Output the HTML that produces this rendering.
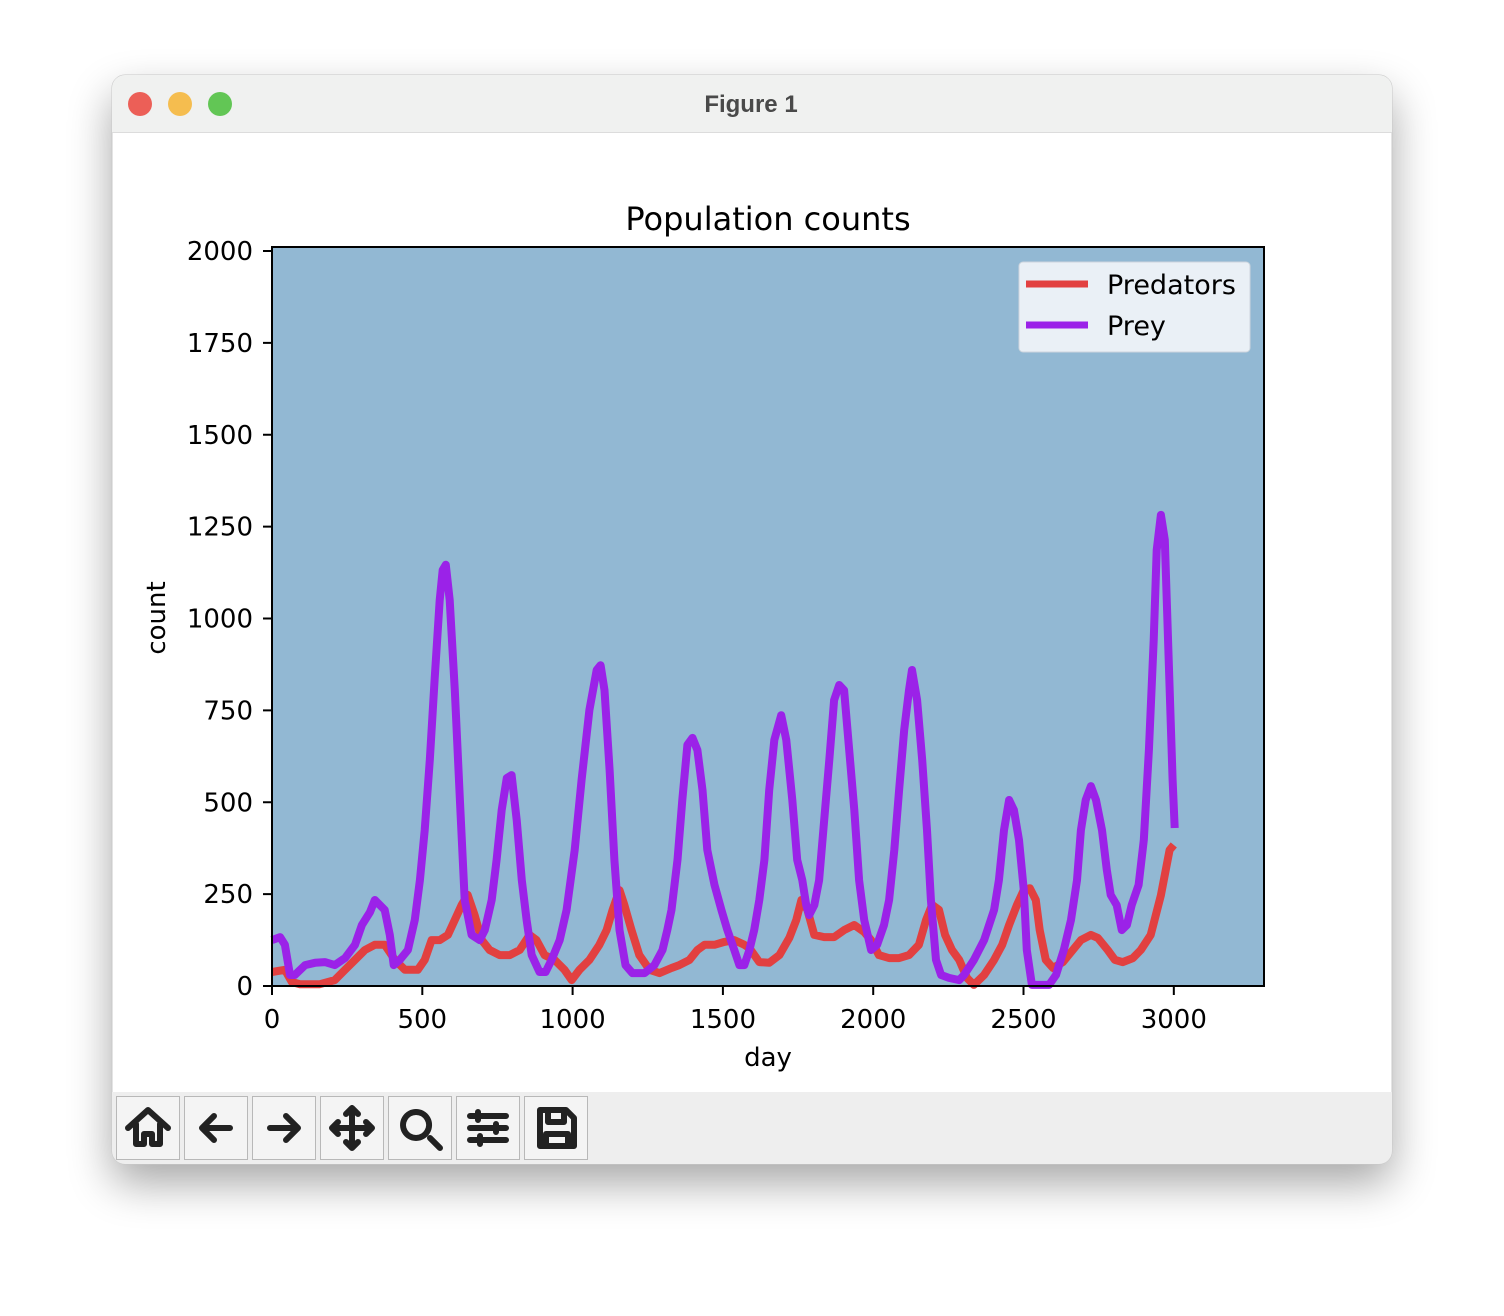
<!DOCTYPE html>
<html><head><meta charset="utf-8"><style>
body{margin:0;width:1504px;height:1312px;background:#fff;font-family:"DejaVu Sans","Liberation Sans",sans-serif;overflow:hidden}
</style></head><body>
<svg id="s" width="1504" height="1312" xmlns="http://www.w3.org/2000/svg">
<defs><filter id="sh" x="-20%" y="-20%" width="140%" height="150%"><feGaussianBlur stdDeviation="22"/></filter></defs>
<rect x="112" y="95" width="1280" height="1088" rx="14" fill="#000" opacity="0.35" filter="url(#sh)"/>
<g>
<rect x="112" y="75" width="1280" height="1089" rx="13" fill="#fff" stroke="#c8c8c8"/>
<path d="M112 132 V88 a13 13 0 0 1 13 -13 H1379 a13 13 0 0 1 13 13 V132 Z" fill="#f0f1f0"/>
<line x1="112" y1="132.5" x2="1392" y2="132.5" stroke="#dcdcdc"/>
<circle cx="140" cy="104" r="12" fill="#ec5f57"/>
<circle cx="180" cy="104" r="12" fill="#f5bd4f"/>
<circle cx="220" cy="104" r="12" fill="#62c655"/>
<text x="751" y="112" text-anchor="middle" font-size="24" font-weight="bold" fill="#4a4a4a" font-family="Liberation Sans, sans-serif">Figure 1</text>
<path d="M112 1092 H1392 V1151 a13 13 0 0 1 -13 13 H125 a13 13 0 0 1 -13 -13 Z" fill="#eeeeee"/>
</g>
<g id="tb"></g>
<text x="768" y="230" text-anchor="middle" font-size="32" fill="#000">Population counts</text>
<rect x="272" y="247" width="992" height="739" fill="#92b8d3"/>
<g id="plot"></g>
<rect x="272" y="247" width="992" height="739" fill="none" stroke="#000" stroke-width="2"/>
<g id="axes"></g>
<text x="768" y="1066" text-anchor="middle" font-size="26">day</text>
<text transform="translate(165,618) rotate(-90)" text-anchor="middle" font-size="26">count</text>
<g>
<rect x="1019" y="262" width="231" height="90" rx="4" fill="#eaf0f6" stroke="#cdd5dd"/>
<line x1="1026" y1="284" x2="1088" y2="284" stroke="#e24040" stroke-width="7"/>
<text x="1107" y="294" font-size="27">Predators</text>
<line x1="1026" y1="325" x2="1088" y2="325" stroke="#9b22e8" stroke-width="7"/>
<text x="1107" y="335" font-size="27">Prey</text>
</g>
</svg>
<script>
const xTicks=[0,500,1000,1500,2000,2500,3000];
const yTicks=[0,250,500,750,1000,1250,1500,1750,2000];
const preyDays=[0,27,43,60,76,110,143,176,209,243,276,299,326,342,359,375,392,405,425,452,475,492,508,525,541,558,568,578,591,608,625,641,664,691,708,731,747,764,781,797,814,831,847,864,890,910,930,957,980,1007,1030,1056,1080,1093,1106,1123,1139,1156,1176,1199,1239,1272,1299,1315,1329,1349,1365,1382,1399,1415,1432,1448,1472,1495,1515,1538,1555,1571,1588,1604,1621,1638,1654,1671,1694,1711,1731,1747,1764,1777,1787,1804,1820,1837,1854,1870,1887,1903,1920,1937,1953,1970,1993,2013,2036,2053,2070,2086,2103,2119,2129,2146,2163,2179,2192,2209,2226,2252,2286,2302,2335,2369,2402,2418,2435,2452,2468,2485,2501,2511,2528,2551,2585,2608,2634,2658,2678,2691,2707,2724,2741,2761,2777,2790,2810,2827,2844,2860,2883,2900,2917,2933,2943,2957,2970,2983,2996,3003];
const preyCounts=[125,133,112,30,30,57,63,65,57,76,112,166,201,234,220,207,139,57,71,98,180,288,424,615,833,1050,1132,1146,1050,805,506,234,139,125,152,234,343,479,566,574,452,288,180,84,38,38,71,125,207,370,561,751,860,873,805,588,343,152,57,35,35,57,98,152,207,343,506,656,675,642,533,370,275,207,152,98,57,57,98,152,234,343,533,669,737,669,506,343,288,220,193,220,288,452,615,778,819,805,642,479,288,180,98,112,166,234,370,533,697,805,860,778,615,424,234,71,30,22,16,30,71,125,207,288,424,506,479,397,261,98,3,3,3,30,98,180,288,424,506,544,506,424,316,248,220,152,166,220,275,397,642,941,1186,1282,1214,887,561,430];
const predDays=[0,43,66,93,159,209,243,276,309,342,375,409,442,485,508,531,558,585,608,631,651,674,698,724,757,791,824,857,880,907,940,973,997,1023,1056,1089,1113,1133,1156,1172,1196,1222,1256,1289,1329,1355,1389,1415,1439,1472,1505,1538,1571,1588,1621,1654,1688,1721,1744,1761,1781,1804,1837,1870,1903,1937,1970,1993,2019,2053,2086,2119,2152,2176,2196,2219,2239,2262,2286,2312,2335,2369,2402,2429,2452,2478,2501,2521,2541,2554,2574,2598,2631,2664,2691,2724,2747,2780,2804,2830,2864,2890,2923,2940,2957,2973,2986,3000];
const predCounts=[38,44,11,5,5,16,44,71,98,112,112,71,44,44,71,125,125,139,180,221,248,193,125,98,84,84,98,139,125,84,71,44,16,44,71,112,152,207,261,221,152,84,44,35,49,57,71,98,112,112,120,125,112,103,65,63,84,131,180,234,207,139,133,133,152,166,147,125,84,76,76,84,112,180,221,207,139,98,71,22,3,30,71,112,166,220,261,266,234,152,71,49,65,98,125,139,131,98,71,65,76,98,139,193,247,315,370,384];
const NS='http://www.w3.org/2000/svg';
const X0=272,X1=1264,XMAX=3300,Y0=986,YPX=0.3675;
function xs(d){return X0+d*(X1-X0)/XMAX;}
function ys(c){return Y0-c*YPX;}
function mk(t,a,p){const e=document.createElementNS(NS,t);for(const k in a)e.setAttribute(k,a[k]);p.appendChild(e);return e;}
const plot=document.getElementById('plot'),axes=document.getElementById('axes');
function line(days,counts,col,name){
  let d='';days.forEach((v,i)=>{d+=(i?'L':'M')+xs(v).toFixed(1)+' '+ys(counts[i]).toFixed(1);});
  const p=mk('path',{d:d,fill:'none',stroke:col,'stroke-width':8,'stroke-linejoin':'round'},plot);
  
  
}
line(predDays,predCounts,'#e24040','predators-line');
line(preyDays,preyCounts,'#9b22e8','prey-line');
xTicks.forEach(v=>{
  const x=xs(v);
  const t=mk('line',{x1:x,x2:x,y1:986,y2:995,stroke:'#000','stroke-width':2},axes);
  
  
  const l=mk('text',{x:x,y:1028,'text-anchor':'middle','font-size':26},axes);l.textContent=v;
  
  
});
yTicks.forEach(v=>{
  const y=ys(v);
  const t=mk('line',{x1:263,x2:272,y1:y,y2:y,stroke:'#000','stroke-width':2},axes);
  
  
  const l=mk('text',{x:253,y:y+9,'text-anchor':'end','font-size':26},axes);l.textContent=v;
  
  
});
const tb=document.getElementById('tb');
const icons=['home','back','forward','pan','zoom','configure','save'];
const glyph={
 home:'M12 32 L32 14 L52 32 M20 28 V48 H28 V38 H36 V48 H44 V28',
 back:'M46 32 H18 M30 20 L18 32 L30 44',
 forward:'M18 32 H46 M34 20 L46 32 L34 44',
 pan:'M32 12 V52 M12 32 H52 M26 18 L32 12 L38 18 M26 46 L32 52 L38 46 M18 26 L12 32 L18 38 M46 26 L52 32 L46 38',
 zoom:'M42 42 L52 52 M28 16 a13 13 0 1 0 0.1 0 Z',
 configure:'M14 20 H50 M14 32 H50 M14 44 H50 M22 16 V24 M40 28 V36 M24 40 V48',
 save:'M16 14 H42 L50 22 V50 H16 Z M24 14 V26 H40 V14 M22 50 V38 H44 V50'};
icons.forEach((n,i)=>{
  const x=116+i*68;
  const g=mk('g',{transform:'translate('+x+',1096)'},tb);
  
  
  mk('rect',{x:0.5,y:0.5,width:63,height:63,fill:'#f4f4f4',stroke:'#b8b8b8'},g);
  mk('path',{d:glyph[n],fill:'none',stroke:'#222','stroke-width':6,'stroke-linecap':'round','stroke-linejoin':'round'},g);
});
</script>
</body></html>
